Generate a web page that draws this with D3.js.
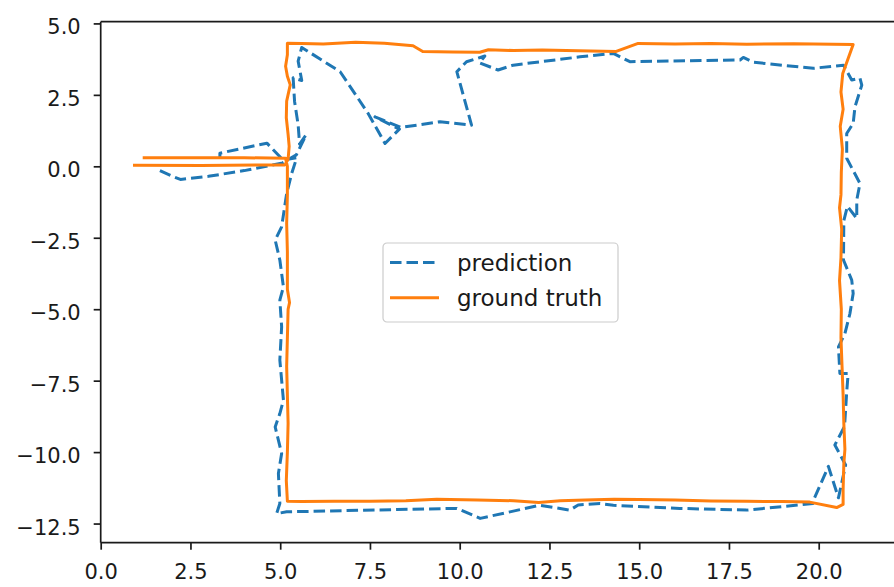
<!DOCTYPE html>
<html>
<head>
<meta charset="utf-8">
<script src="https://cdn.jsdelivr.net/npm/d3@7"></script>
<style>
  html, body { margin: 0; padding: 0; background: #fff; }
  svg { display: block; }
  text { font-family: "DejaVu Sans", sans-serif; fill: #1a1a1a; }
</style>
</head>
<body>
<svg id="chart" width="894" height="587"></svg>
<script>
// Tick values for both axes
const xTicks = [0, 2.5, 5, 7.5, 10, 12.5, 15, 17.5, 20];
const yTicks = [5, 2.5, 0, -2.5, -5, -7.5, -10, -12.5];

// Series names
const seriesNames = ["prediction", "ground truth"];

// Predicted trajectory (x, y)
const prediction = [
  [1.65, -0.15], [2.0, -0.35], [2.22, -0.46], [3.0, -0.35], [4.0, -0.15], [5.07, 0.12],
  [5.45, 0.4], [5.72, 1.1], [5.54, 0.78], [5.5, 1.45], [5.4, 2.27], [5.36, 3.1],
  [5.6, 3.0], [5.5, 3.68], [5.6, 4.16],
  [6.67, 3.31], [7.45, 1.85], [7.92, 0.8], [8.32, 1.3], [7.64, 1.73], [8.36, 1.36],
  [9.45, 1.56], [10.33, 1.44], [9.92, 3.31], [10.19, 3.66], [10.7, 3.86], [10.55, 3.62],
  [11.07, 3.37], [11.49, 3.54], [13.35, 3.83], [14.28, 3.95], [14.74, 3.66],
  [17.81, 3.72], [17.9, 3.81], [18.18, 3.64], [19.85, 3.43], [20.69, 3.54],
  [20.92, 3.02], [21.15, 3.08], [21.2, 2.84], [21.01, 2.08], [20.96, 1.5], [20.78, 1.15],
  [20.78, 0.28], [21.15, -0.6], [21.06, -1.18], [21.06, -1.82], [20.8, -1.4], [20.7, -1.9],
  [20.69, -3.28], [20.92, -3.98], [20.96, -4.45], [20.87, -5.15], [20.73, -5.85],
  [20.55, -6.32], [20.59, -7.25], [20.82, -7.25], [20.78, -7.9], [20.72, -9.1],
  [20.45, -9.75], [20.75, -10.45], [20.55, -11.6], [20.27, -10.5], [19.85, -11.7],
  [19.84, -11.8], [17.99, -12.03], [16.13, -11.97], [14.28, -11.86], [13.91, -11.8],
  [13.3, -11.85], [13.07, -12.03], [12.23, -11.86], [10.57, -12.32], [9.92, -11.97],
  [8.25, -12.01], [5.18, -12.09], [4.9, -12.15], [4.99, -11.8], [4.95, -10.75],
  [5.04, -10.05], [4.86, -9.12], [4.99, -8.65], [5.09, -8.18], [4.99, -6.78],
  [5.04, -5.62], [4.99, -4.68], [5.09, -4.22], [4.99, -3.28], [4.86, -2.58],
  [5.04, -2.12], [5.18, -0.95], [5.32, -0.25], [5.46, 0.3], [5.08, 0.22],
  [4.63, 0.81], [3.32, 0.46], [3.32, 0.32]
];

// Ground-truth trajectory (x, y)
const groundTruth = [
  [0.9, 0.04], [2.8, 0.03], [4.6, 0.05], [5.13, 0.05], [5.22, 0.25], [5.25, 0.7],
  [5.22, 1.12], [5.17, 1.7], [5.18, 2.28], [5.28, 2.85], [5.2, 3.15], [5.15, 3.5],
  [5.2, 3.9], [5.2, 4.31],
  [5.6, 4.3], [6.2, 4.28], [7.1, 4.34], [7.9, 4.31], [8.7, 4.22], [8.97, 4.02],
  [9.8, 4.0], [10.56, 3.99], [10.8, 4.08], [11.5, 4.05], [12.3, 4.07], [13.3, 4.04],
  [14.36, 4.02], [14.97, 4.3], [16.0, 4.28], [17.0, 4.3], [18.0, 4.27], [19.3, 4.29],
  [20.96, 4.26],
  [20.67, 3.25], [20.62, 2.6], [20.68, 2.0], [20.6, 1.4], [20.66, 0.6], [20.63, -0.2],
  [20.62, -1.0], [20.58, -1.45], [20.64, -2.2], [20.62, -3.2], [20.58, -4.0],
  [20.63, -5.0], [20.62, -6.0], [20.65, -7.0], [20.68, -8.0], [20.7, -9.0],
  [20.73, -9.9], [20.7, -10.4], [20.68, -11.3], [20.68, -11.83],
  [20.5, -11.94], [19.75, -11.75], [19.0, -11.73], [18.0, -11.72], [17.0, -11.71],
  [16.0, -11.68], [15.0, -11.66], [14.3, -11.65], [13.5, -11.68], [12.8, -11.7],
  [12.2, -11.76], [11.5, -11.7], [10.5, -11.68], [9.36, -11.65], [8.5, -11.7],
  [7.5, -11.72], [6.5, -11.72], [5.6, -11.73], [5.2, -11.72],
  [5.17, -11.0], [5.2, -10.0], [5.22, -9.0], [5.2, -8.0], [5.18, -7.0], [5.2, -6.0],
  [5.22, -5.0], [5.26, -4.77], [5.2, -4.3], [5.2, -3.0], [5.18, -2.0], [5.2, -1.0],
  [5.2, 0.0], [5.15, 0.28],
  [4.0, 0.3], [2.5, 0.3], [1.17, 0.3]
];

const colors = ["#1f77b4", "#ff7f0e"];

// Axes box (right edge lies just past the visible canvas)
const plot = { left: 100.7, top: 21.7, right: 899.3, bottom: 542.7 };

const x = d3.scaleLinear().domain([0, 22.245]).range([plot.left, plot.right]);
const y = d3.scaleLinear().domain([-13.17, 5.06]).range([plot.bottom, plot.top]);

const svg = d3.select("#chart");

svg.append("defs").append("clipPath").attr("id", "plot-clip")
  .append("rect")
  .attr("x", plot.left).attr("y", plot.top)
  .attr("width", plot.right - plot.left).attr("height", plot.bottom - plot.top);

const line = d3.line().x(d => x(d[0])).y(d => y(d[1]));

const lines = svg.append("g").attr("clip-path", "url(#plot-clip)");

lines.append("path")
  .datum(prediction)
  .attr("d", line)
  .attr("fill", "none")
  .attr("stroke", colors[0])
  .attr("stroke-width", 3)
  .attr("stroke-dasharray", "11.5,5")
  .attr("stroke-linejoin", "round");

lines.append("path")
  .datum(groundTruth)
  .attr("d", line)
  .attr("fill", "none")
  .attr("stroke", colors[1])
  .attr("stroke-width", 3)
  .attr("stroke-linejoin", "round");

// Axes
const fmt = d3.format(".1f");

const xAxis = svg.append("g")
  .attr("transform", `translate(0,${plot.bottom})`)
  .call(d3.axisBottom(x).tickValues(xTicks).tickFormat(fmt).tickSize(7).tickPadding(14).tickSizeOuter(0));

const yAxis = svg.append("g")
  .attr("transform", `translate(${plot.left},0)`)
  .call(d3.axisLeft(y).tickValues(yTicks).tickFormat(fmt).tickSize(7).tickPadding(13).tickSizeOuter(0));

[xAxis, yAxis].forEach(g => {
  g.select(".domain").remove();
  g.selectAll(".tick line").attr("stroke", "#1a1a1a").attr("stroke-width", 1.7);
  g.selectAll(".tick text")
    .attr("fill", "#1a1a1a")
    .style("font-family", "'DejaVu Sans', sans-serif")
    .style("font-size", "21px");
});
yAxis.selectAll(".tick text").attr("dy", "0.5em");

// Spines: left, bottom and top (the right one falls outside the canvas)
const spines = svg.append("g")
  .attr("stroke", "#1a1a1a").attr("stroke-width", 1.7).attr("fill", "none");
spines.append("line").attr("x1", plot.left).attr("x2", plot.left)
  .attr("y1", plot.top).attr("y2", plot.bottom);
spines.append("line").attr("x1", plot.left).attr("x2", plot.right)
  .attr("y1", plot.bottom).attr("y2", plot.bottom);
spines.append("line").attr("x1", plot.left).attr("x2", plot.right)
  .attr("y1", plot.top).attr("y2", plot.top);

// Legend
const legend = svg.append("g").attr("transform", "translate(383,243)");
legend.append("rect")
  .attr("width", 235).attr("height", 79)
  .attr("rx", 4).attr("ry", 4)
  .attr("fill", "#fff").attr("fill-opacity", 0.8)
  .attr("stroke", "#cccccc").attr("stroke-width", 1.2);

const rows = [
  { name: seriesNames[0], color: colors[0], dash: "11.5,5", cy: 19.5, base: 27.5 },
  { name: seriesNames[1], color: colors[1], dash: null, cy: 54.7, base: 63 }
];
rows.forEach(r => {
  legend.append("line")
    .attr("x1", 7).attr("x2", 56)
    .attr("y1", r.cy).attr("y2", r.cy)
    .attr("stroke", r.color).attr("stroke-width", 3)
    .attr("stroke-dasharray", r.dash);
  legend.append("text")
    .attr("x", 74).attr("y", r.base)
    .style("font-size", "23px")
    .text(r.name);
});
</script>
</body>
</html>
